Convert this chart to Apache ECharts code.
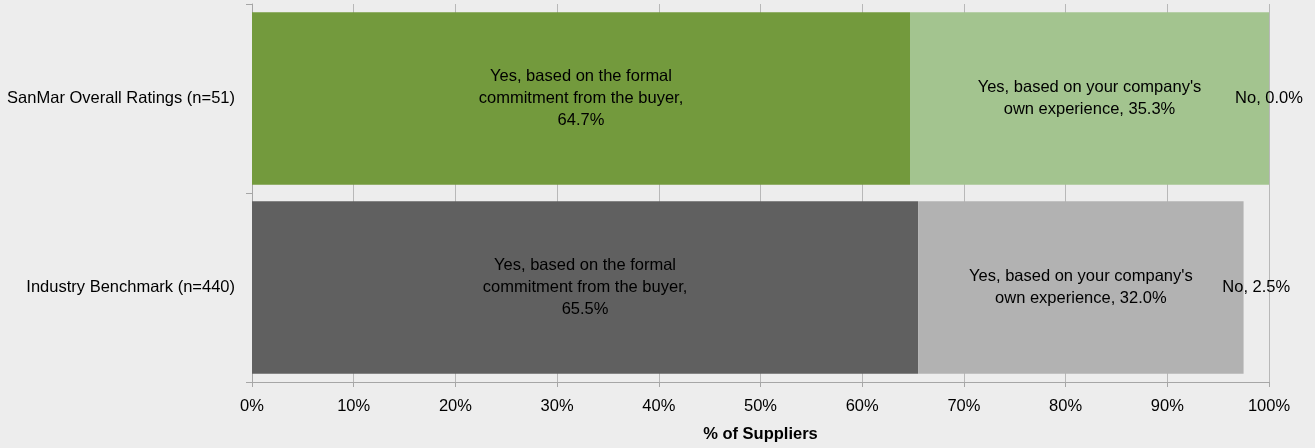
<!DOCTYPE html>
<html>
<head>
<meta charset="utf-8">
<script src="https://cdn.jsdelivr.net/npm/echarts@6/dist/echarts.min.js"></script>
<style>
html,body{margin:0;padding:0;background:#EDEDED;}
#c{width:1315px;height:448px;}
</style>
</head>
<body>
<div id="c"></div>
<script>
const categories = ["SanMar Overall Ratings (n=51)", "Industry Benchmark (n=440)"];
const formalCommitment = [64.7, 65.5];
const ownExperience = [35.3, 32.0];
const noValues = [0.0, 2.5];
const xTicks = [0, 10, 20, 30, 40, 50, 60, 70, 80, 90, 100];

const FONT = "Liberation Sans";
const FS = 16.5;
const chart = echarts.init(document.getElementById('c'));
const lbl = (fn) => ({
  show: true, position: 'inside', color: '#000', fontFamily: FONT, fontSize: FS,
  lineHeight: 22, align: 'center', formatter: fn
});
chart.setOption({
  backgroundColor: '#EDEDED',
  animation: false,
  grid: {left: 252, right: 46, top: 4, bottom: 65},
  xAxis: {
    type: 'value', min: xTicks[0], max: xTicks[xTicks.length - 1], interval: 10,
    name: '% of Suppliers', nameLocation: 'middle', nameGap: 44,
    nameTextStyle: {fontFamily: FONT, fontSize: FS, fontWeight: 'bold', color: '#000'},
    axisLine: {show: true, lineStyle: {color: '#A6A6A6', width: 1}},
    axisTick: {show: true, length: 5, lineStyle: {color: '#A6A6A6'}},
    axisLabel: {formatter: v => v + '%', fontFamily: FONT, fontSize: FS, color: '#000', margin: 16},
    splitLine: {show: true, lineStyle: {color: '#B8B8B8', width: 1}}
  },
  yAxis: {
    type: 'category', data: categories, inverse: true,
    axisLine: {show: true, lineStyle: {color: '#A6A6A6'}},
    axisTick: {show: true, length: 6, lineStyle: {color: '#A6A6A6'}},
    axisLabel: {fontFamily: FONT, fontSize: FS, color: '#000', margin: 17}
  },
  series: [
    {name: 'formal', type: 'bar', stack: 's', data: formalCommitment, barCategoryGap: '8.7%',
     itemStyle: {color: p => p.dataIndex === 0 ? '#739A3D' : '#606060'},
     label: lbl(p => 'Yes, based on the formal\ncommitment from the buyer,\n' + p.value.toFixed(1) + '%')},
    {name: 'own', type: 'bar', stack: 's', data: ownExperience,
     itemStyle: {color: p => p.dataIndex === 0 ? '#A3C48F' : '#B2B2B2'},
     label: lbl(p => "Yes, based on your company's\nown experience, " + p.value.toFixed(1) + '%')},
    {name: 'no', type: 'bar', stack: 's', data: noValues,
     itemStyle: {color: 'rgba(0,0,0,0)'},
     label: Object.assign(lbl(p => 'No, ' + p.value.toFixed(1) + '%'), {overflow: 'none'})}
  ]
});
</script>
</body>
</html>
